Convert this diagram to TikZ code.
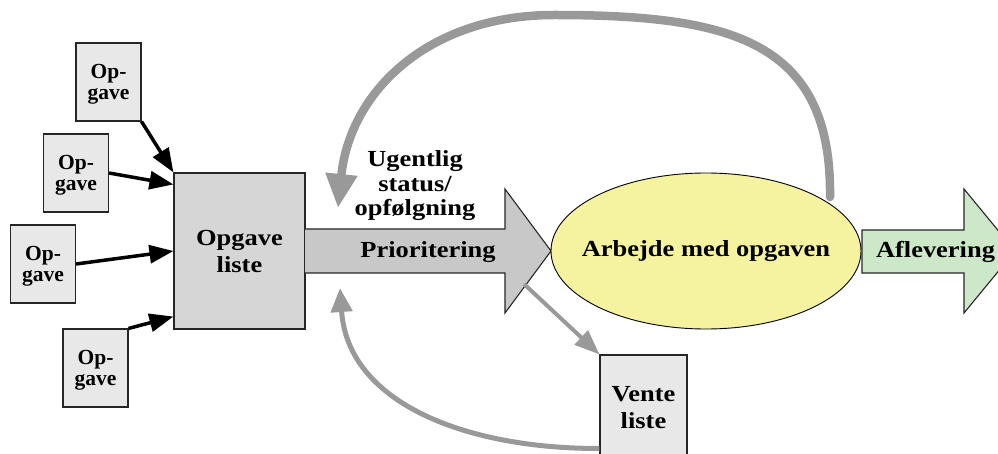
\documentclass[tikz,border=0pt]{standalone}
\usepackage{fontspec}
\setmainfont{Liberation Serif}
\newfontfamily\wideserif[FakeStretch=1.15]{Liberation Serif}
\usetikzlibrary{arrows.meta,calc,shapes.geometric}

\definecolor{taskfill}{RGB}{232,232,232}
\definecolor{listfill}{RGB}{214,214,214}
\definecolor{prioFill}{RGB}{200,200,200}
\definecolor{loopgray}{RGB}{153,153,153}
\definecolor{workfill}{RGB}{245,242,160}
\definecolor{deliverfill}{RGB}{204,232,200}

\begin{document}
\begin{tikzpicture}[x=1pt,y=-1pt,
  task/.style={draw=black!85, line width=1.1pt, fill=taskfill,
    minimum width=65pt, minimum height=78pt, inner sep=0pt,
    align=center, text depth=0pt,
    font=\fontsize{21.5}{21.5}\selectfont\bfseries},
  bigbox/.style={draw=black!85, line width=1.1pt, inner sep=0pt,
    align=center, font=\wideserif\fontsize{23}{27}\selectfont\bfseries},
  lbl/.style={inner sep=0pt, align=center,
    font=\wideserif\fontsize{23}{24.5}\selectfont\bfseries},
  feed/.style={line width=3.5pt, black, -{Triangle[width=18pt,length=24pt]}},
  fatarrow/.style={draw=black!85, line width=1.1pt, line join=miter},
  loopthick/.style={line width=8.5pt, loopgray, line cap=round,
    -{Triangle[width=30pt,length=34pt]}},
  loopthin/.style={line width=5pt, loopgray,
    -{Triangle[width=21pt,length=24pt]}},
  parkline/.style={line width=4pt, loopgray,
    -{Triangle[width=19pt,length=25pt]}}
]
\useasboundingbox (0,0) rectangle (998,454);
\clip (0,0) rectangle (998,454);

% incoming tasks
\node[task] (t1) at (108.5,82) {Op-\\gave};
\node[task] (t2) at (76,173) {Op-\\gave};
\node[task] (t3) at (43,264) {Op-\\gave};
\node[task] (t4) at (95.5,368) {Op-\\gave};

% task list
\node[bigbox, fill=listfill, minimum width=131pt, minimum height=156pt]
  (liste) at (239.5,251) {Opgave\\liste};

% prioritising arrow
\coordinate (pA) at (305,229);
\coordinate (pB) at (505,229);
\coordinate (pC) at (505,189);
\coordinate (pTip) at (551,251);
\coordinate (pD) at (505,313);
\coordinate (pE) at (505,273);
\coordinate (pF) at (305,273);
\filldraw[fatarrow, fill=prioFill] (pA) -- (pB) -- (pC) -- (pTip) -- (pD) -- (pE) -- (pF);
\node[lbl, anchor=base] (prio) at (428,258) {Prioritering};

% working on the task
\node[ellipse, draw=black, line width=0.9pt, fill=workfill,
  minimum width=310pt, minimum height=156pt, inner sep=0pt]
  (work) at (706,251) {};
\node[lbl, anchor=base] (worktext) at (706,257) {Arbejde med opgaven};

% delivery arrow
\coordinate (dA) at (862,230);
\coordinate (dB) at (964,230);
\coordinate (dC) at (964,189);
\coordinate (dTip) at (1015,251);
\coordinate (dD) at (964,313);
\coordinate (dE) at (964,273);
\coordinate (dF) at (862,273);
\filldraw[fatarrow, fill=deliverfill] (dA) -- (dB) -- (dC) -- (dTip) -- (dD) -- (dE) -- (dF) -- cycle;
\node[lbl, anchor=base] (deliver) at (935.5,258) {Aflevering};

% waiting list
\node[bigbox, fill=taskfill, minimum width=87pt, minimum height=105pt]
  (vente) at (643.5,407.5) {Vente\\liste};

% weekly follow-up label
\node[lbl] (status) at (415,186) {Ugentlig\\status/\\opfølgning};

% feeding arrows
\draw[feed] (t1.south east) -- (liste.north west);
\draw[feed] (t2.east) -- ($(liste.north west)+(0,12)$);
\draw[feed] (t3.east) -- (liste.west);
\draw[feed] (t4.north east) -- ($(liste.south west)+(0,-13)$);

% parking a task on the waiting list
\coordinate (parkStart) at (524,284);
\draw[parkline] (parkStart) -- (vente.north west);

% return from the waiting list
\coordinate (backEnd) at (340,288);
\draw[loopthin] ($(vente.north west)+(0,94)$)
  .. controls (470,449) and (348,405) .. (backEnd);

% weekly status loop
\coordinate (loopStart) at (830,197);
\coordinate (loopTop) at (554,15);
\coordinate (loopEnd) at (338,208);
\draw[loopthick] (loopStart) .. controls (832,40) and (730,15) .. (loopTop)
  .. controls (430,15) and (350,90) .. (loopEnd);
\end{tikzpicture}
\end{document}
